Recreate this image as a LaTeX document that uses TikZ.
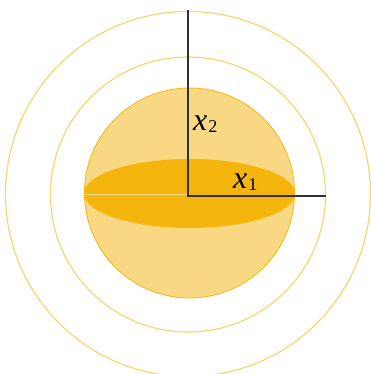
\documentclass[tikz,border=0pt]{standalone}
\usepackage{fontspec}
\setmainfont{Liberation Serif}
\usepackage{tikz}
\usetikzlibrary{positioning}
\definecolor{ringgold}{RGB}{250,212,110}
\definecolor{ballfill}{RGB}{249,216,132}
\definecolor{balledge}{RGB}{244,186,30}
\definecolor{discfill}{RGB}{244,182,12}
\definecolor{seamline}{RGB}{250,222,150}
\definecolor{axisgray}{RGB}{50,50,50}
\newcommand{\axlab}[1]{\textit{x}\kern1pt\raisebox{-2pt}{\fontsize{18}{18}\selectfont #1}}

\begin{document}
\begin{tikzpicture}[x=1pt,y=1pt,
  ring/.style={draw=ringgold,line width=1.2pt},
  axis/.style={draw=axisgray,line width=1.4pt},
  lbl/.style={inner sep=0pt,anchor=base west,font=\fontsize{32}{32}\selectfont},
]
  \useasboundingbox (-188,-178) rectangle (183,196);
  \draw[ring] (0,2) circle[radius=182.5];
  \draw[ring] (0,1.5) circle[radius=137.5];
  \draw[fill=ballfill,draw=balledge,line width=0.9pt] (1.5,3) circle[radius=105];
  \fill[discfill] (1.5,2.5) ellipse[x radius=105.5,y radius=34.5];
  \draw[seamline,line width=0.8pt] (-103,1.2) -- (0,1.2);
  \coordinate (origin) at (0,0);
  \coordinate (x2end) at (0,186);
  \coordinate (x1end) at (138,0);
  \draw[axis] (x2end) -- (origin) -- (x1end);
  \node[lbl] (x2) at (5,65) {\axlab{2}};
  \node[lbl] (x1) at (45,7) {\axlab{1}};
\end{tikzpicture}
\end{document}
